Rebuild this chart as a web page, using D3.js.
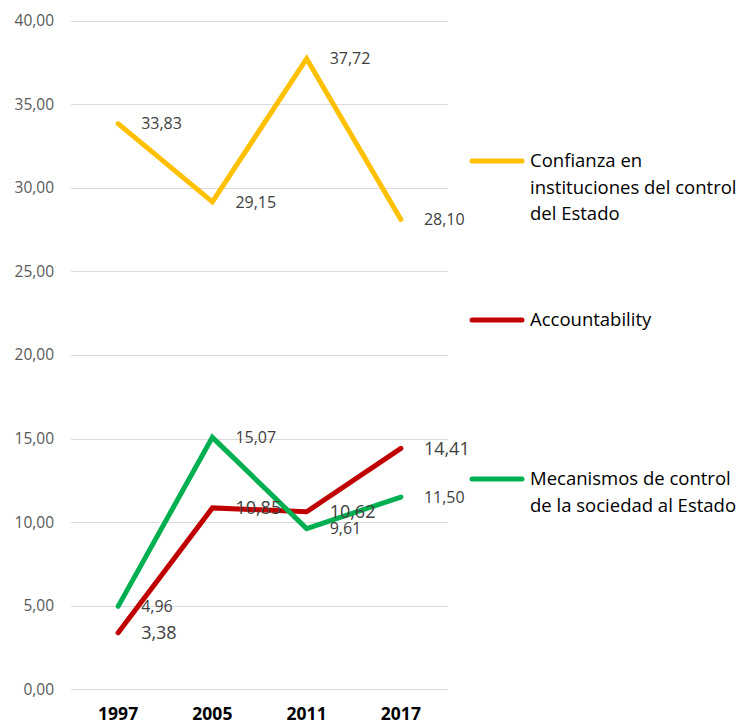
<!DOCTYPE html>
<html>
<head>
<meta charset="utf-8">
<script src="https://cdn.jsdelivr.net/npm/d3@7"></script>
<style>
  body { margin: 0; background: #fff; }
  svg { font-family: "Open Sans", "Noto Sans", sans-serif; }
</style>
</head>
<body>
<script>
// ---------------------- DATA ----------------------
const years = ["1997", "2005", "2011", "2017"];
const confianza = [33.83, 29.15, 37.72, 28.10];
const accountability = [3.38, 10.85, 10.62, 14.41];
const mecanismos = [4.96, 15.07, 9.61, 11.50];
const yTicks = [0, 5, 10, 15, 20, 25, 30, 35, 40];

const series = [
    { name: ["Confianza en", "instituciones del control", "del Estado"], values: confianza, color: "#FFC000", labelSize: 16, legendY: 161 },
    { name: ["Accountability"], values: accountability, color: "#C00000", labelSize: 18, legendY: 320 },
    { name: ["Mecanismos de control", "de la sociedad al Estado"], values: mecanismos, color: "#00B050", labelSize: 16, legendY: 479 }
];

// ---------------------- LAYOUT ----------------------
const width = 741, height = 725;
const plot = { left: 71, right: 448, top: 20.5, bottom: 689.3 };

const svg = d3.select("body").append("svg")
    .attr("width", width)
    .attr("height", height);

const x = d3.scaleBand()
    .domain(years)
    .range([plot.left, plot.right]);

const y = d3.scaleLinear()
    .domain([0, 40])
    .range([plot.bottom, plot.top]);

const fmt = v => d3.format(".2f")(v).replace(".", ",");

// gridlines
svg.append("g")
    .selectAll("line")
    .data(yTicks)
    .enter().append("line")
    .attr("x1", plot.left)
    .attr("x2", plot.right)
    .attr("y1", d => Math.round(y(d)) + 0.5)
    .attr("y2", d => Math.round(y(d)) + 0.5)
    .attr("stroke", "#d9d9d9")
    .attr("stroke-width", 1);

// y axis labels
const yAxis = svg.append("g")
    .attr("transform", `translate(${plot.left - 17},0)`)
    .call(d3.axisLeft(y).tickValues(yTicks).tickFormat(fmt).tickSize(0).tickPadding(0));
yAxis.select(".domain").remove();
yAxis.selectAll("text")
    .attr("fill", "#595959")
    .style("font-size", "15.5px")
    .style("font-family", "'Open Sans', sans-serif");

// x axis labels
const xAxis = svg.append("g")
    .attr("transform", `translate(0,${plot.bottom})`)
    .call(d3.axisBottom(x).tickSize(0).tickPadding(18));
xAxis.select(".domain").remove();
xAxis.selectAll("text")
    .attr("fill", "#000")
    .style("font-size", "17.5px")
    .style("font-weight", "bold")
    .style("font-family", "'Open Sans', sans-serif");

// lines
const line = d3.line()
    .x((d, i) => x(years[i]) + x.bandwidth() / 2)
    .y(d => y(d));

svg.append("g")
    .selectAll("path")
    .data(series)
    .enter().append("path")
    .attr("d", d => line(d.values))
    .attr("fill", "none")
    .attr("stroke", d => d.color)
    .attr("stroke-width", 5)
    .attr("stroke-linejoin", "miter")
    .attr("stroke-linecap", "round");

// data labels
series.forEach(s => {
    svg.append("g")
        .selectAll("text")
        .data(s.values)
        .enter().append("text")
        .attr("x", (d, i) => x(years[i]) + x.bandwidth() / 2 + 23)
        .attr("y", d => y(d))
        .attr("dy", "0.35em")
        .attr("fill", "#404040")
        .style("font-size", s.labelSize + "px")
        .text(fmt);
});

// legend
const legend = svg.append("g")
    .selectAll("g")
    .data(series)
    .enter().append("g")
    .attr("transform", d => `translate(0,${d.legendY})`);

legend.append("line")
    .attr("x1", 472)
    .attr("x2", 522)
    .attr("stroke", d => d.color)
    .attr("stroke-width", 5)
    .attr("stroke-linecap", "round");

legend.append("text")
    .attr("x", 530)
    .attr("fill", "#000")
    .style("font-size", "18.5px")
    .selectAll("tspan")
    .data(d => d.name)
    .enter().append("tspan")
    .attr("x", 530)
    .attr("y", (d, i) => i * 26.5)
    .attr("dy", "0.35em")
    .text(d => d);
</script>
</body>
</html>
